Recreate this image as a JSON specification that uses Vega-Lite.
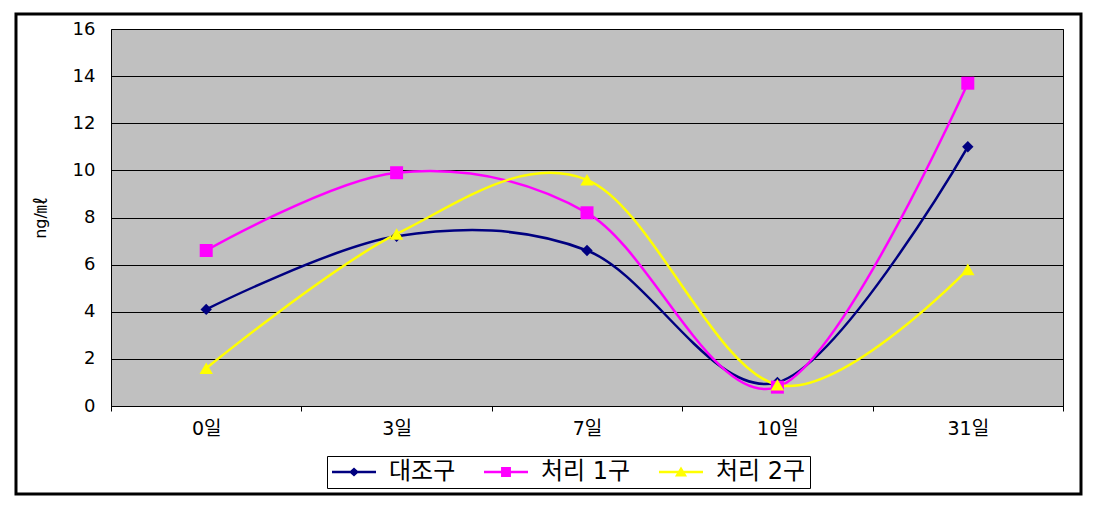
{
  "$schema": "https://vega.github.io/schema/vega-lite/v6.json",
  "width": 952,
  "height": 377,
  "autosize": "none",
  "padding": {"left": 111, "top": 29, "right": 31, "bottom": 99},
  "background": "white",
  "config": {
    "view": {"fill": "#C0C0C0", "stroke": "black", "strokeWidth": 1},
    "font": "'DejaVu Sans', 'Noto Sans CJK KR'"
  },
  "datasets": {
    "pts": [
      {"day": "0일", "series": "대조구", "value": 4.1},
      {"day": "3일", "series": "대조구", "value": 7.2},
      {"day": "7일", "series": "대조구", "value": 6.6},
      {"day": "10일", "series": "대조구", "value": 1.0},
      {"day": "31일", "series": "대조구", "value": 11.0},
      {"day": "0일", "series": "처리 1구", "value": 6.6},
      {"day": "3일", "series": "처리 1구", "value": 9.9},
      {"day": "7일", "series": "처리 1구", "value": 8.2},
      {"day": "10일", "series": "처리 1구", "value": 0.8},
      {"day": "31일", "series": "처리 1구", "value": 13.7},
      {"day": "0일", "series": "처리 2구", "value": 1.6},
      {"day": "3일", "series": "처리 2구", "value": 7.3},
      {"day": "7일", "series": "처리 2구", "value": 9.6},
      {"day": "10일", "series": "처리 2구", "value": 0.9},
      {"day": "31일", "series": "처리 2구", "value": 5.8}
    ]
  },
  "layer": [
    {
      "data": {"values": [{}]},
      "mark": {"type": "rect", "fillOpacity": 0, "stroke": "black", "strokeWidth": 3, "clip": false},
      "encoding": {
        "x": {"datum": -0.0998, "type": "quantitative", "scale": {"domain": [0, 1], "nice": false, "zero": false}, "axis": null},
        "x2": {"datum": 1.0189},
        "y": {"datum": 16.64, "type": "quantitative"},
        "y2": {"datum": -3.73}
      }
    },
    {
      "data": {"name": "pts"},
      "encoding": {
        "x": {
          "field": "day", "type": "nominal",
          "sort": ["0일", "3일", "7일", "10일", "31일"],
          "scale": {"paddingInner": 0, "paddingOuter": 0},
          "axis": {
            "title": null, "labelAngle": 0, "labelFontSize": 19,
            "labelFont": "'DejaVu Sans', 'Noto Sans CJK KR'",
            "labelColor": "black", "labelPadding": 8,
            "tickBand": "extent", "tickSize": 5, "tickColor": "black",
            "domainColor": "black", "grid": false
          }
        },
        "y": {
          "field": "value", "type": "quantitative",
          "scale": {"domain": [0, 16], "nice": false, "zero": true},
          "axis": {
            "title": "ng/㎖", "titleFontSize": 16, "titleFontWeight": "normal",
            "titleColor": "black", "titlePadding": 24,
            "titleFont": "'DejaVu Sans', 'Noto Sans CJK KR'",
            "values": [0, 2, 4, 6, 8, 10, 12, 14, 16],
            "labelFont": "'DejaVu Sans'",
            "labelFontSize": 18, "labelColor": "black", "labelPadding": 16,
            "ticks": false, "domain": false,
            "grid": true, "gridColor": "black", "gridWidth": 1, "gridOpacity": 1
          }
        }
      },
      "layer": [
        {
          "transform": [{"filter": "datum.series === '대조구'"}],
          "mark": {"type": "line", "interpolate": "cardinal", "strokeWidth": 2.5, "stroke": "#000080"}
        },
        {
          "transform": [{"filter": "datum.series === '처리 1구'"}],
          "mark": {"type": "line", "interpolate": "cardinal", "strokeWidth": 2.5, "stroke": "#FF00FF"}
        },
        {
          "transform": [{"filter": "datum.series === '처리 2구'"}],
          "mark": {"type": "line", "interpolate": "cardinal", "strokeWidth": 2.5, "stroke": "#FFFF00"}
        },
        {
          "transform": [{"filter": "datum.series === '대조구'"}],
          "mark": {"type": "point", "filled": true, "opacity": 1, "shape": "diamond", "size": 130, "color": "#000080"}
        },
        {
          "transform": [{"filter": "datum.series === '처리 1구'"}],
          "mark": {"type": "point", "filled": true, "opacity": 1, "shape": "square", "size": 169, "color": "#FF00FF"}
        },
        {
          "transform": [{"filter": "datum.series === '처리 2구'"}],
          "mark": {"type": "point", "filled": true, "opacity": 1, "shape": "triangle-up", "size": 180, "color": "#FFFF00"}
        },
        {
          "transform": [{"filter": "datum.value < -100"}],
          "mark": {"type": "point", "filled": true, "opacity": 1},
          "encoding": {
            "color": {
              "field": "series", "type": "nominal",
              "scale": {"domain": ["대조구", "처리 1구", "처리 2구"], "range": ["#000080", "#FF00FF", "#FFFF00"]},
              "legend": {
                "title": null, "orient": "none", "direction": "horizontal",
                "legendX": 216, "legendY": 427,
                "strokeColor": "black", "padding": 4, "fillColor": "white",
                "labelFontSize": 24, "labelFont": "'DejaVu Sans', 'Noto Sans CJK KR'",
                "labelColor": "black", "labelOffset": 34, "columnPadding": 27,
                "symbolSize": 484, "symbolOpacity": 1
              }
            },
            "shape": {
              "field": "series", "type": "nominal",
              "scale": {
                "domain": ["대조구", "처리 1구", "처리 2구"],
                "range": [
                  "M-1,-0.11H3V0.11H-1ZM1,-0.4L1.45,0L1,0.4L0.55,0Z",
                  "M-1,-0.11H3V0.11H-1ZM0.55,-0.45H1.45V0.45H0.55Z",
                  "M-1,-0.11H3V0.11H-1ZM1,-0.5L1.55,0.4H0.45Z"
                ]
              },
              "legend": null
            }
          }
        }
      ]
    }
  ],
  "resolve": {"scale": {"x": "independent"}, "axis": {"x": "independent"}}
}
